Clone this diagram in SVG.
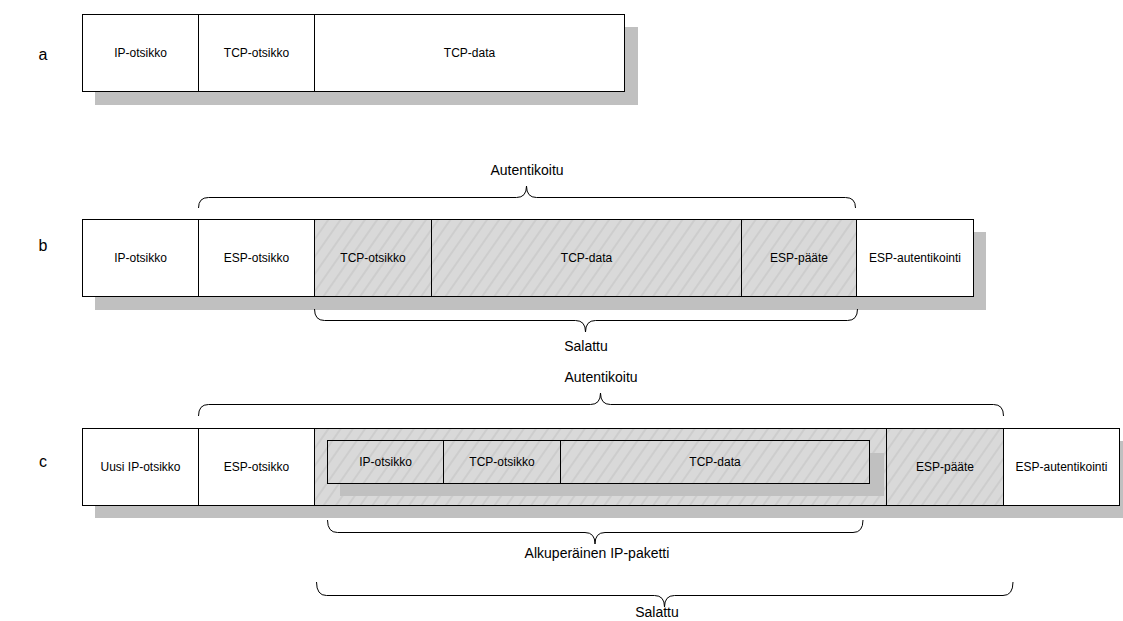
<svg xmlns="http://www.w3.org/2000/svg" width="1123" height="621" viewBox="0 0 1123 621">
  <defs>
    <pattern id="hatch" patternUnits="userSpaceOnUse" width="10" height="10" patternTransform="rotate(35)">
      <rect x="-1" y="-1" width="12" height="12" fill="#d9d9d9"/>
      <line x1="5" y1="-1" x2="5" y2="11" stroke="#c2c2c2" stroke-width="1"/>
    </pattern>
    <style>
      .cell { fill: #ffffff; stroke: #000000; stroke-width: 1; }
      .enc { fill: url(#hatch); stroke: #000000; stroke-width: 1; }
      .shadow { fill: #c0c0c0; stroke: none; }
      .lbl { font-family: "Liberation Sans", Arial, sans-serif; font-size: 12px; fill: #000; text-anchor: middle; dominant-baseline: central; }
      .big { font-family: "Liberation Sans", Arial, sans-serif; font-size: 14px; fill: #000; text-anchor: middle; dominant-baseline: central; }
      .row { font-family: "Liberation Sans", Arial, sans-serif; font-size: 16px; fill: #000; text-anchor: middle; dominant-baseline: central; }
      .brace { fill: none; stroke: #000000; stroke-width: 1; }
    </style>
  </defs>
  <rect width="1123" height="621" fill="#ffffff"/>

  <!-- a: plain IP packet -->
  <g id="packet-a">
    <text class="row" x="43" y="54">a</text>
    <rect class="shadow" x="95" y="27" width="543" height="78"/>
    <g id="a-ip"><rect class="cell" x="82.5" y="14.5" width="116" height="77"/><text class="lbl" x="140.5" y="53">IP-otsikko</text></g>
    <g id="a-tcp"><rect class="cell" x="198.5" y="14.5" width="116" height="77"/><text class="lbl" x="256.5" y="53">TCP-otsikko</text></g>
    <g id="a-data"><rect class="cell" x="314.5" y="14.5" width="310" height="77"/><text class="lbl" x="469.5" y="53">TCP-data</text></g>
  </g>

  <!-- b: ESP transport mode -->
  <g id="packet-b">
    <text class="row" x="43" y="245">b</text>
    <rect class="shadow" x="95" y="232" width="891" height="78"/>
    <g id="b-ip"><rect class="cell" x="82.5" y="219.5" width="116" height="77"/><text class="lbl" x="140.5" y="258">IP-otsikko</text></g>
    <g id="b-esph"><rect class="cell" x="198.5" y="219.5" width="116" height="77"/><text class="lbl" x="256.5" y="258">ESP-otsikko</text></g>
    <g id="b-tcp"><rect class="enc" x="314.5" y="219.5" width="117" height="77"/><text class="lbl" x="373" y="258">TCP-otsikko</text></g>
    <g id="b-data"><rect class="enc" x="431.5" y="219.5" width="310" height="77"/><text class="lbl" x="586.5" y="258">TCP-data</text></g>
    <g id="b-trailer"><rect class="enc" x="741.5" y="219.5" width="115" height="77"/><text class="lbl" x="799" y="258">ESP-pääte</text></g>
    <g id="b-auth"><rect class="cell" x="856.5" y="219.5" width="117" height="77"/><text class="lbl" x="915" y="258">ESP-autentikointi</text></g>
  </g>

  <!-- c: ESP tunnel mode -->
  <g id="packet-c">
    <text class="row" x="43" y="461">c</text>
    <rect class="shadow" x="95" y="441" width="1040" height="77"/>
    <g id="c-newip"><rect class="cell" x="82.5" y="428.5" width="116" height="77"/><text class="lbl" x="140.5" y="467">Uusi IP-otsikko</text></g>
    <g id="c-esph"><rect class="cell" x="198.5" y="428.5" width="116" height="77"/><text class="lbl" x="256.5" y="467">ESP-otsikko</text></g>
    <g id="c-payload"><rect class="enc" x="314.5" y="428.5" width="572" height="77"/></g>
    <g id="c-trailer"><rect class="enc" x="886.5" y="428.5" width="117" height="77"/><text class="lbl" x="945" y="467">ESP-pääte</text></g>
    <g id="c-auth"><rect class="cell" x="1003.5" y="428.5" width="116" height="77"/><text class="lbl" x="1061.5" y="467">ESP-autentikointi</text></g>
  </g>

  <!-- original packet carried inside the tunnel -->
  <g id="inner-packet">
    <rect class="shadow" x="340" y="453" width="544" height="43"/>
    <g id="c-ip"><rect class="enc" x="327.5" y="440.5" width="116" height="43"/><text class="lbl" x="385.5" y="462">IP-otsikko</text></g>
    <g id="c-tcp"><rect class="enc" x="443.5" y="440.5" width="117" height="43"/><text class="lbl" x="502" y="462">TCP-otsikko</text></g>
    <g id="c-data"><rect class="enc" x="560.5" y="440.5" width="309" height="43"/><text class="lbl" x="715" y="462">TCP-data</text></g>
  </g>

  <!-- braces marking the covered ranges -->
  <g id="connectors">
    <path class="brace" d="M198.5,208 Q198.5,197.5 208.5,197.5 H516.5 Q526.5,197.5 526.5,186 Q526.5,197.5 536.5,197.5 H845.5 Q855.5,197.5 855.5,208"/>
    <path class="brace" d="M314.5,309 Q314.5,320.5 324.5,320.5 H575.5 Q585.5,320.5 585.5,332 Q585.5,320.5 595.5,320.5 H847.5 Q857.5,320.5 857.5,309"/>
    <path class="brace" d="M198.5,416 Q198.5,404.5 208.5,404.5 H590.5 Q600.5,404.5 600.5,393 Q600.5,404.5 610.5,404.5 H993.5 Q1003.5,404.5 1003.5,416"/>
    <path class="brace" d="M327.5,520 Q327.5,532.5 337.5,532.5 H585 Q595,532.5 595,544 Q595,532.5 605,532.5 H853 Q863,532.5 863,520"/>
    <path class="brace" d="M316.5,582 Q316.5,595.5 326.5,595.5 H654.5 Q664.5,595.5 664.5,607 Q664.5,595.5 674.5,595.5 H1003 Q1013,595.5 1013,582"/>
  </g>

  <g id="brace-labels">
    <text class="big" x="527" y="170">Autentikoitu</text>
    <text class="big" x="586" y="346">Salattu</text>
    <text class="big" x="601" y="377">Autentikoitu</text>
    <text class="big" x="597" y="553">Alkuperäinen IP-paketti</text>
    <text class="big" x="657" y="612">Salattu</text>
  </g>
</svg>
